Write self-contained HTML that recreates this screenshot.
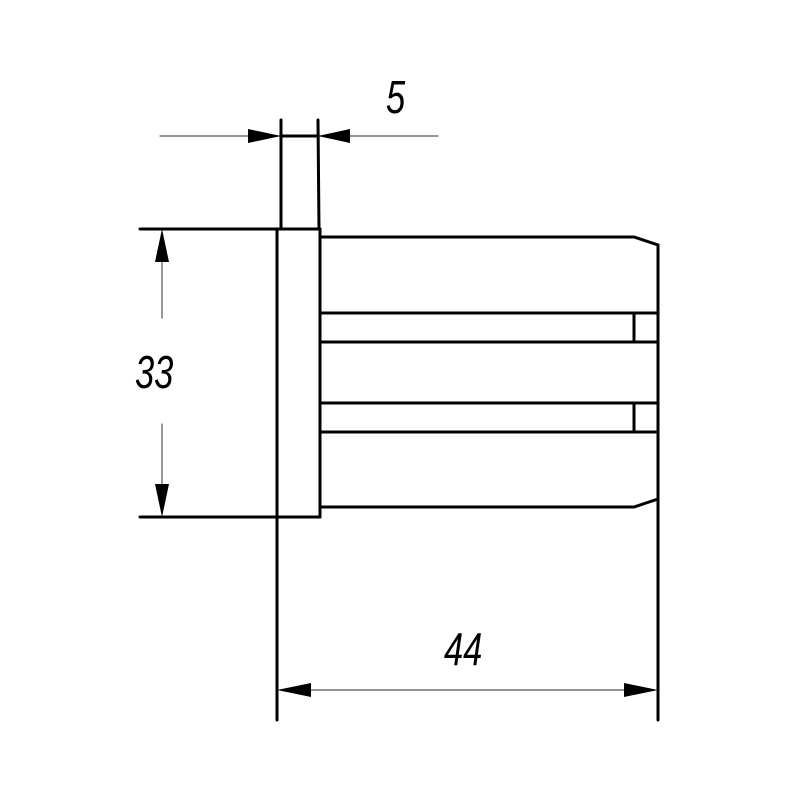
<!DOCTYPE html>
<html><head><style>body{margin:0;background:#fff}svg{display:block}</style></head><body>
<svg width="800" height="800" viewBox="0 0 800 800" xmlns="http://www.w3.org/2000/svg">
<g stroke="#000" fill="none" stroke-linecap="round">
<!-- thin dim lines -->
<g stroke-width="1.2" stroke="#555">
<line x1="160" y1="136" x2="438" y2="136"/>
<line x1="162" y1="249" x2="162" y2="318"/>
<line x1="162" y1="424" x2="162" y2="500"/>
<line x1="290" y1="690" x2="645" y2="690"/>
</g>
<g stroke-width="3">
<line x1="281" y1="120" x2="281" y2="229"/>
<line x1="318" y1="120" x2="319" y2="229"/>
<line x1="140" y1="229" x2="320" y2="229"/>
<line x1="140" y1="517" x2="320" y2="517"/>
<line x1="277" y1="229" x2="277" y2="720"/>
<line x1="320" y1="229" x2="320" y2="517"/>
<polyline points="320,237 634,237 658,245 658,720"/>
<polyline points="320,507 634,507 658,499"/>
<line x1="320" y1="313" x2="658" y2="313"/>
<line x1="320" y1="342" x2="658" y2="342"/>
<line x1="320" y1="403" x2="658" y2="403"/>
<line x1="320" y1="432" x2="658" y2="432"/>
<line x1="634" y1="313" x2="634" y2="342"/>
<line x1="634" y1="403" x2="634" y2="432"/>
<line x1="281" y1="136" x2="318" y2="136"/>
</g>
</g>
<g fill="#000">
<polygon points="281,136 248,129 248,143"/>
<polygon points="318,136 350,129 350,143"/>
<polygon points="162,229 155,262 169,262"/>
<polygon points="162,517 155,484 169,484"/>
<polygon points="277,690 311,683 311,697"/>
<polygon points="658,690 624,683 624,697"/>
</g>
<g font-family="Liberation Sans, sans-serif" font-style="italic" font-size="46" fill="#000">
<text x="0" y="0" transform="translate(386,113) scale(0.75,1)">5</text>
<text x="0" y="0" transform="translate(135,388) scale(0.75,1)">33</text>
<text x="0" y="0" transform="translate(444,665) scale(0.75,1)">44</text>
</g>
</svg>
</body></html>
